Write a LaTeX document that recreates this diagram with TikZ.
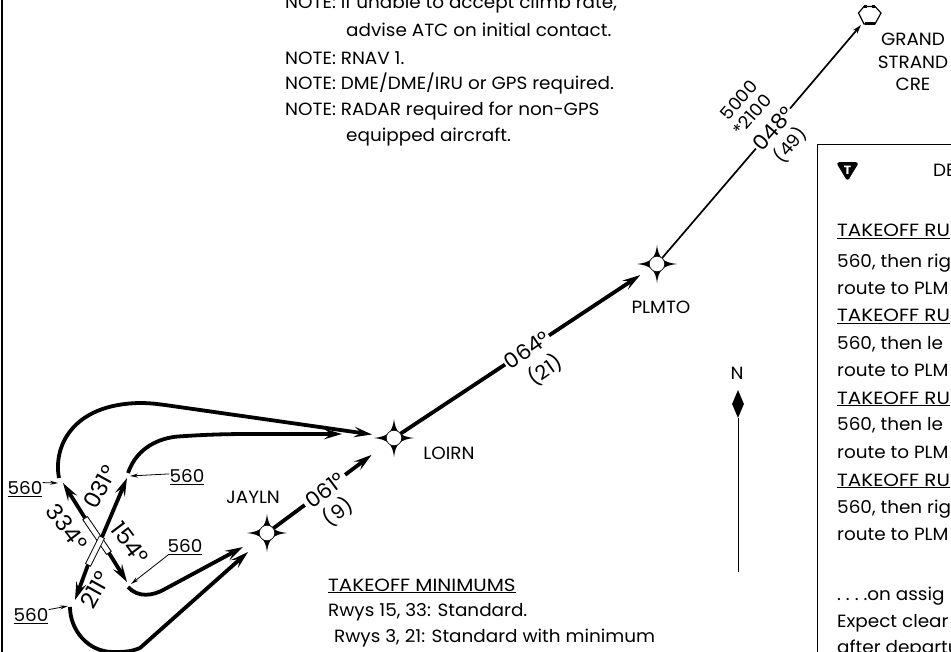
\documentclass[tikz,border=0pt]{standalone}
\usepackage{fontspec}
\setmainfont{Poppins}[FakeStretch=1.04]
\usetikzlibrary{arrows.meta,shapes.geometric}
\tikzset{
  x=1pt,y=-1pt,
  route/.style={line width=3.8pt,line cap=butt,line join=round},
  routearrow/.style={route,-{Stealth[length=18pt,width=10.5pt,inset=7pt]}},
  thinroute/.style={line width=1.7pt},
  leader/.style={line width=0.8pt,-{Stealth[length=8pt,width=4pt]}},
  txt/.style={anchor=base west,inner sep=0pt,font=\fontsize{17.7}{20}\selectfont},
  mid/.style={anchor=center,inner sep=0pt,font=\fontsize{17.7}{20}\selectfont},
  lab/.style={anchor=center,inner sep=1pt,font=\fontsize{21}{22}\selectfont},
  rlab/.style={anchor=center,inner sep=1pt,font=\fontsize{22.5}{22}\selectfont},
  dist/.style={anchor=center,inner sep=0pt,font=\fontsize{19.5}{20}\selectfont},
  alt/.style={anchor=center,inner sep=0pt,font=\fontsize{17.5}{20}\selectfont},
  rwy/.style={draw,fill=white,line width=0.7pt,inner sep=0pt,minimum height=5.5pt},
  wptc/.style={circle,draw,fill=white,line width=0.6pt,inner sep=0pt,minimum size=15.5pt},
}
\newcommand{\wptstar}[2]{%
  \fill[black,shift={(#1,#2)}] (0,-19) .. controls (1.5,-6) and (6,-1.5) .. (20,0)
    .. controls (6,1.5) and (1.5,6) .. (0,19)
    .. controls (-1.5,6) and (-6,1.5) .. (-20,0)
    .. controls (-6,-1.5) and (-1.5,-6) .. cycle;}
\newcommand{\capsline}[1]{\scalebox{1.08}[1]{\underline{#1}}}
\begin{document}
\begin{tikzpicture}
\useasboundingbox (0,0) rectangle (951,652);
\clip (0,0) rectangle (951,652);
\fill[white] (0,0) rectangle (951,652);
% frame
\draw[line width=1.8pt] (1.8,-5) -- (1.8,660);
\node[draw,line width=1pt,anchor=north west,minimum width=220pt,minimum height=600pt,inner sep=0pt] (box) at (817,144) {};
% waypoints
\wptstar{394}{438}\node[wptc] (LOIRN) at (394,438) {};
\wptstar{267}{533}\node[wptc] (JAYLN) at (267,533) {};
\wptstar{657}{264}\node[wptc] (PLMTO) at (657,264) {};
\node[mid] (tLOIRN) at (449,453) {LOIRN};
\node[mid] (tJAYLN) at (253,497) {JAYLN};
\node[mid] (tPLMTO) at (661,307) {PLMTO};
% grand strand
\node[circle,inner sep=0pt,minimum size=26pt] (GS) at (869.5,15) {};
\draw[line width=1.2pt] (858.5,13) -- (864,6.5) -- (875,6.5) -- (881,13) -- (875,24) -- (864,24) -- cycle;
\draw[line width=2.6pt] (864,6.5) -- (867,6.5) (872,6.5) -- (875,6.5) (864.5,23.5) -- (874.5,23.5);
\node[mid,align=center] (tGS) at (913,62) {GRAND\\[2.5pt]STRAND\\[2.5pt]CRE};
% labels on legs
\node[lab,rotate=35,minimum width=52pt] (l064) at (527,350) {064°};
\node[dist,rotate=35] (l21) at (545,370) {(21)};
\node[lab,rotate=37,minimum width=50pt] (l061) at (325,490) {061°};
\node[dist,rotate=37] (l9) at (338,512) {(9)};
\node[lab,rotate=49,minimum width=52pt] (l048) at (773,128.6) {048°};
\node[alt,rotate=49] (l5000) at (739,100) {5000};
\node[alt,rotate=49] (l2100) at (752,115) {*2100};
\node[alt,rotate=49] (l49) at (790,145) {(49)};
% legs
\draw[route] (LOIRN) -- (l064);
\draw[routearrow,shorten >=12pt] (l064) -- (PLMTO);
\draw[route] (JAYLN) -- (l061);
\draw[routearrow,shorten >=20pt] (l061) -- (LOIRN);
\draw[thinroute] (PLMTO) -- (l048);
\draw[thinroute,-{Stealth[length=9pt,width=5.5pt]}] (l048) -- (GS);
% runways and departure legs
\node[rwy,rotate=-55.6,minimum width=42pt] (rwA) at (97,535.5) {};
\node[rwy,rotate=63.4,minimum width=31pt] (rwB) at (95,551) {};
\coordinate (t334) at (63,483);
\coordinate (t031) at (127,478);
\coordinate (t154) at (127,582);
\coordinate (t211) at (75,600);
\draw[routearrow] (rwA.west) -- (t334);
\draw[routearrow] (rwB.east) -- (t031);
\draw[routearrow] (rwA.east) -- (t154);
\draw[routearrow] (rwB.west) -- (t211);
\node[rwy,rotate=-55.6,minimum width=42pt] at (97,535.5) {};
\node[rwy,rotate=63.4,minimum width=31pt] at (95,551) {};
\node[rlab,rotate=-53] (l334) at (67,527) {334°};
\node[rlab,rotate=61] (l031) at (100,487) {031°};
\node[rlab,rotate=-53] (l154) at (130,543) {154°};
\node[rlab,rotate=61] (l211) at (95,590) {211°};
% turning legs
\coordinate (s1) at (59,478);
\coordinate (e1) at (372,434.5);
\draw[routearrow] (s1) .. controls (53,447) and (72,404) .. (140,403) .. controls (150,403) and (157,404) .. (165,405) -- (e1);
\coordinate (s2) at (128,473);
\coordinate (e2) at (342,434);
\draw[routearrow] (s2) .. controls (137,447) and (160,438) .. (178,436.5) .. controls (200,435) and (220,434) .. (250,434) -- (e2);
\coordinate (s3) at (128,587);
\coordinate (e3) at (243,547);
\draw[routearrow] (s3) .. controls (138,598) and (153,596) .. (165,589) -- (e3);
\coordinate (s4) at (70,607);
\coordinate (e4) at (248,552);
\draw[routearrow] (s4) .. controls (70,630) and (88,652) .. (113,652) .. controls (124,652) and (130,652) .. (140,648) -- (e4);
% 560 labels
\node[mid] (a1) at (25,489) {\underline{560}};
\node[mid] (a2) at (187,477) {\underline{560}};
\node[mid] (a3) at (185,547) {\underline{560}};
\node[mid] (a4) at (31,616) {\underline{560}};
\coordinate (p1) at (58,483);
\coordinate (p2) at (130,476);
\coordinate (p3) at (131,584);
\coordinate (p4) at (68,606);
\draw[leader] (a1.20) -- (p1);
\draw[leader] (a2.170) -- (p2);
\draw[leader] (a3.205) -- (p3);
\draw[leader] (a4.20) -- (p4);
% notes
\node[txt] (n1) at (285,9) {NOTE: If unable to accept climb rate,};
\node[txt] (n2) at (346,37) {advise ATC on initial contact.};
\node[txt] (n3) at (285,65) {NOTE: RNAV 1.};
\node[txt] (n4) at (285,90) {NOTE: DME/DME/IRU or GPS required.};
\node[txt] (n5) at (285,116) {NOTE: RADAR required for non-GPS};
\node[txt] (n6) at (346,142) {equipped aircraft.};
% takeoff minimums
\node[txt] (m1) at (328,591) {\capsline{TAKEOFF MINIMUMS}};
\node[txt] (m2) at (328,616) {Rwys 15, 33: Standard.};
\node[txt] (m3) at (334,642) {Rwys 3, 21: Standard with minimum};
% north
\node[mid] (N) at (737,373) {N};
\node[diamond,fill=black,inner sep=0pt,minimum width=12pt,minimum height=28pt] (ND) at (738,404) {};
\coordinate (Nend) at (738,572);
\draw[line width=0.9pt] (ND) -- (Nend);
% box content
\fill[black,line width=3.5pt,line join=round,draw=black] (839,164) -- (856,164) -- (847.5,178) -- cycle;
\node[inner sep=0pt,text=white,font=\bfseries\fontsize{12}{12}\selectfont] (T) at (847.5,170) {T};
\node[txt] (b0) at (933,177) {DE};
\foreach \n/\y/\s in {
  b1/237/\capsline{TAKEOFF RU},
  b2/268/{560, then rig},
  b3/295/{route to PLM},
  b4/322/\capsline{TAKEOFF RU},
  b5/350/{560, then le},
  b6/377/{route to PLM},
  b7/404/\capsline{TAKEOFF RU},
  b8/431/{560, then le},
  b9/458/{route to PLM},
  b10/486/\capsline{TAKEOFF RU},
  b11/513/{560, then rig},
  b12/540/{route to PLM},
  b13/600/{.\ .\ .\ .on assig},
  b14/627/{Expect clear},
  b15/653/{after departu}}
  {\node[txt] (\n) at (837,\y) {\s};}
\end{tikzpicture}
\end{document}
